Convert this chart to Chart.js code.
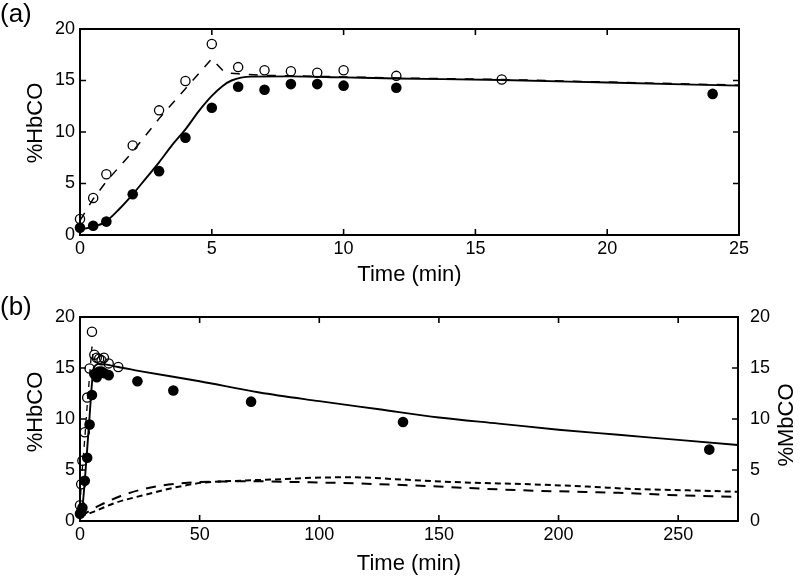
<!DOCTYPE html>
<html>
<head>
<meta charset="utf-8">
<script src="https://cdn.jsdelivr.net/npm/chart.js@4"></script>
<style>
  body { margin: 0; background: #fff; }
  canvas { display: block; }
</style>
</head>
<body>
<canvas id="chartA" width="800" height="288"></canvas>
<canvas id="chartB" width="800" height="289"></canvas>
<script>
// Measured points, time in min
var timeFilled = [0, 0.5, 1, 2, 3, 4, 5, 6, 7, 8, 9, 10, 12, 24];
var hbcoFilled = [0.7, 0.9, 1.3, 3.95, 6.2, 9.45, 12.35, 14.4, 14.1, 14.65, 14.65, 14.5, 14.3, 13.7];
var timeOpen = [0, 0.5, 1, 2, 3, 4, 5, 6, 7, 8, 9, 10, 12, 16];
var hbcoOpen = [1.55, 3.6, 5.9, 8.7, 12.1, 14.95, 18.55, 16.3, 16.0, 15.9, 15.75, 16.0, 15.45, 15.1];
// later samples only shown in (b)
var timeLate = [39, 71.5, 135, 263];
var hbcoLate = [12.8, 11.7, 9.7, 7.0];

// Model curves
var fitTime = [0, 0.5, 1, 1.5, 2, 2.5, 3, 3.5, 4, 4.5, 5, 5.4, 5.75, 6.5, 8, 10, 12, 16, 20, 25];
var fitHbco = [0.55, 0.78, 1.35, 2.55, 3.95, 5.5, 7.05, 8.75, 10.25, 12.0, 13.5, 14.45, 15.0, 15.38, 15.4, 15.3, 15.2, 15.05, 14.8, 14.5];
var dashTime = [0, 0.5, 1, 2, 3, 4, 5, 5.5, 6, 7, 8, 10, 12, 16, 20, 25];
var dashHbco = [1.4, 3.5, 5.2, 8.1, 11.3, 14.2, 17.1, 15.75, 15.65, 15.5, 15.45, 15.35, 15.25, 15.1, 14.85, 14.55];
var longTime = [0, 1, 2, 3, 4, 5, 5.75, 8, 16, 25, 50, 75, 100, 125, 150, 175, 200, 225, 250, 275];
var longHbco = [0.55, 1.35, 3.95, 7.05, 10.25, 13.5, 15.0, 15.4, 15.1, 14.7, 13.7, 12.6, 11.75, 10.95, 10.15, 9.55, 8.95, 8.45, 7.95, 7.45];

// %MbCO curves (right axis of b)
var mbLongTime = [0, 8, 17, 26, 35, 45, 55, 70, 90, 110, 140, 167, 190, 211, 225, 246, 275];
var mbLong = [0.45, 1.5, 2.45, 3.1, 3.5, 3.75, 3.85, 3.9, 3.82, 3.72, 3.48, 3.18, 2.97, 2.85, 2.76, 2.56, 2.35];
var mbShortTime = [0, 5, 15, 26, 40, 51, 67, 84, 102, 115, 132, 160, 188, 212, 231, 252, 275];
var mbShort = [0.45, 0.85, 1.8, 2.5, 3.3, 3.75, 3.95, 4.1, 4.27, 4.28, 4.1, 3.78, 3.6, 3.38, 3.14, 3.02, 2.86];

var yTicks = [0, 5, 10, 15, 20];

var FONT = "'Liberation Sans', Arial, Helvetica, sans-serif";
Chart.defaults.font.family = FONT;
Chart.defaults.color = '#000';

function pts(xs, ys) {
  return xs.map(function(x, i) { return { x: x, y: ys[i] }; });
}

// box round the plot, tick marks pointing inward, panel letter and y titles
var framePlugin = {
  id: 'frame',
  beforeDatasetsDraw: function(chart) {
    var ctx = chart.ctx, a = chart.chartArea;
    ctx.save();
    ctx.strokeStyle = '#000';
    ctx.lineWidth = 1.6;
    ctx.beginPath();
    var x = chart.scales.x;
    x.ticks.forEach(function(t) {
      var px = x.getPixelForValue(t.value);
      ctx.moveTo(px, a.bottom); ctx.lineTo(px, a.bottom - 6);
      ctx.moveTo(px, a.top); ctx.lineTo(px, a.top + 6);
    });
    var y = chart.scales.y;
    y.ticks.forEach(function(t) {
      var py = y.getPixelForValue(t.value);
      ctx.moveTo(a.left, py); ctx.lineTo(a.left + 6, py);
      ctx.moveTo(a.right, py); ctx.lineTo(a.right - 6, py);
    });
    ctx.stroke();
    ctx.lineWidth = 2;
    ctx.strokeRect(a.left, a.top, a.right - a.left, a.bottom - a.top);
    ctx.restore();
  },
  afterDraw: function(chart, args, opts) {
    var ctx = chart.ctx, a = chart.chartArea;
    var mid = (a.top + a.bottom) / 2;
    ctx.save();
    ctx.fillStyle = '#000';
    ctx.font = '26px ' + FONT;
    ctx.textBaseline = 'middle';
    ctx.textAlign = 'left';
    ctx.fillText(opts.label, 0, opts.labelY);

    ctx.font = '22px ' + FONT;
    ctx.textAlign = 'center';
    ctx.save();
    ctx.translate(36, mid + opts.leftShift);
    ctx.rotate(-Math.PI / 2);
    ctx.fillText(opts.leftTitle, 0, 0);
    ctx.restore();
    if (opts.rightTitle) {
      ctx.translate(787, mid + 6);
      ctx.rotate(-Math.PI / 2);
      ctx.fillText(opts.rightTitle, 0, 0);
    }
    ctx.restore();
  }
};

function xAxis(max, step, height) {
  return {
    type: 'linear', min: 0, max: max,
    ticks: { stepSize: step, includeBounds: false, font: { size: 18 }, padding: 3, color: '#000' },
    grid: { drawOnChartArea: false, drawTicks: false },
    border: { display: false },
    title: { display: true, text: 'Time (min)', font: { size: 22 }, padding: 0, color: '#000' },
    afterFit: function(s) { s.height = height; }
  };
}

function yAxis() {
  return {
    type: 'linear', min: 0, max: 20,
    afterBuildTicks: function(s) { s.ticks = yTicks.map(function(v) { return { value: v }; }); },
    ticks: { font: { size: 18 }, padding: 5, color: '#000' },
    grid: { drawOnChartArea: false, drawTicks: false },
    border: { display: false },
    afterFit: function(s) { s.width = 80; }
  };
}

var filledStyle = { type: 'scatter', pointRadius: 5.3, backgroundColor: '#000', borderColor: '#000', borderWidth: 0, clip: false, order: 1 };
var openStyle = { type: 'scatter', pointRadius: 4.6, backgroundColor: 'rgba(0,0,0,0)', borderColor: '#000', borderWidth: 1.3, clip: false, order: 2 };

function lineSet(data, width, dash, smooth, axis, order) {
  return {
    type: 'line', data: data, borderColor: '#000', borderWidth: width, borderDash: dash,
    pointRadius: 0, tension: 0, cubicInterpolationMode: smooth ? 'monotone' : 'default',
    yAxisID: axis || 'y', order: order
  };
}

var common = {
  responsive: false,
  animation: false,
  events: []
};

// (a)
new Chart(document.getElementById('chartA'), {
  type: 'scatter',
  data: {
    datasets: [
      Object.assign({ data: pts(timeFilled, hbcoFilled) }, filledStyle),
      Object.assign({ data: pts(timeOpen, hbcoOpen) }, openStyle),
      lineSet(pts(fitTime, fitHbco), 1.9, [], true, 'y', 3),
      lineSet(pts(dashTime, dashHbco), 1.5, [9, 9], false, 'y', 4)
    ]
  },
  options: Object.assign({}, common, {
    layout: { padding: { top: 29, right: 61, left: 0, bottom: 0 } },
    scales: { x: xAxis(25, 5, 53), y: yAxis() },
    plugins: {
      legend: { display: false }, tooltip: { enabled: false },
      frame: { label: '(a)', labelY: 15, leftTitle: '%HbCO', leftShift: -9 }
    }
  }),
  plugins: [framePlugin]
});

// (b)
new Chart(document.getElementById('chartB'), {
  type: 'scatter',
  data: {
    datasets: [
      Object.assign({ data: pts(timeFilled.concat(timeLate), hbcoFilled.concat(hbcoLate)) }, filledStyle),
      Object.assign({ data: pts(timeOpen, hbcoOpen) }, openStyle),
      lineSet(pts(longTime, longHbco), 1.9, [], true, 'y', 3),
      lineSet(pts(dashTime.slice(0, 10), dashHbco.slice(0, 10)), 1.3, [6, 6], false, 'y', 4),
      lineSet(pts(mbLongTime, mbLong), 2, [10, 8], true, 'y2', 5),
      lineSet(pts(mbShortTime, mbShort), 2, [6, 4], true, 'y2', 6)
    ]
  },
  options: Object.assign({}, common, {
    layout: { padding: { top: 29, right: 0, left: 0, bottom: 0 } },
    scales: {
      x: xAxis(275, 50, 56),
      y: yAxis(),
      y2: {
        type: 'linear', position: 'right', min: 0, max: 20,
        afterBuildTicks: function(s) { s.ticks = yTicks.map(function(v) { return { value: v }; }); },
        ticks: { font: { size: 18 }, padding: 4, color: '#000' },
        grid: { display: false },
        border: { display: false },
        afterFit: function(s) { s.width = 62; }
      }
    },
    plugins: {
      legend: { display: false }, tooltip: { enabled: false },
      frame: { label: '(b)', labelY: 20, leftTitle: '%HbCO', leftShift: -7, rightTitle: '%MbCO' }
    }
  }),
  plugins: [framePlugin]
});
</script>
</body>
</html>
